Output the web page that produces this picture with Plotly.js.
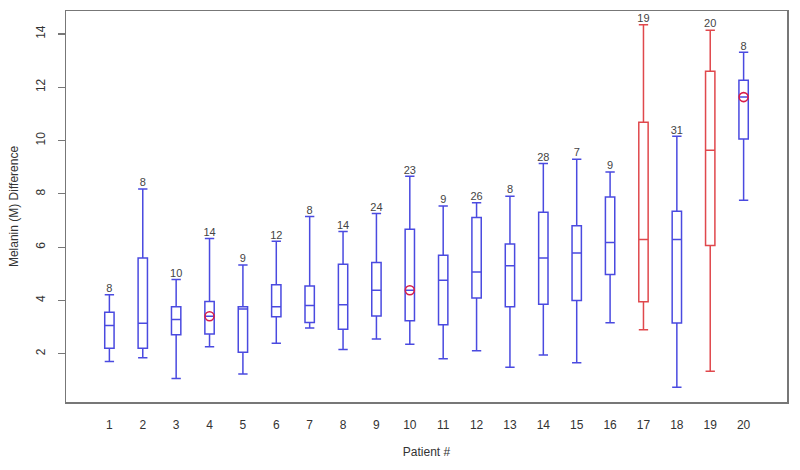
<!DOCTYPE html>
<html>
<head>
<meta charset="utf-8">
<script src="https://cdn.plot.ly/plotly-3.0.1.min.js"></script>
<style>html,body{margin:0;padding:0;background:#fff;}#chart{width:800px;height:470px;}</style>
</head>
<body>
<div id="chart"></div>
<script>
// Patient data
const patients = [1,2,3,4,5,6,7,8,9,10,11,12,13,14,15,16,17,18,19,20];
const lowerWhisker = [1.71,1.85,1.07,2.26,1.24,2.39,2.97,2.16,2.55,2.36,1.81,2.11,1.49,1.95,1.66,3.16,2.90,0.74,1.34,7.76];
const q1Values     = [2.21,2.21,2.71,2.74,2.06,3.39,3.17,2.92,3.42,3.24,3.09,4.09,3.76,3.86,4.00,4.97,3.95,3.15,6.06,10.06];
const medianValues = [3.06,3.14,3.29,3.41,3.68,3.76,3.81,3.84,4.38,4.38,4.76,5.07,5.30,5.59,5.78,6.17,6.29,6.29,9.64,11.63];
const q3Values     = [3.56,5.59,3.76,3.96,3.76,4.59,4.54,5.36,5.42,6.67,5.70,7.11,6.12,7.31,6.80,7.88,10.69,7.35,12.60,12.26];
const upperWhisker = [4.21,8.18,4.79,6.32,5.33,6.22,7.15,6.59,7.26,8.66,7.54,7.67,7.91,9.14,9.30,8.82,14.34,10.16,14.14,13.31];
const countLabels  = [8,8,10,14,9,12,8,14,24,23,9,26,8,28,7,9,19,31,20,8];
const groupColour  = ['b','b','b','b','b','b','b','b','b','b','b','b','b','b','b','b','r','b','r','b'];
// Marked patients (red circles)
const markedPatients = [4,10,20];
const markedValues   = [3.41,4.38,11.63];

const BLUE = '#4a4ae0';
const RED = '#e0484c';

function groupTrace(code, colour) {
  const idx = patients.map((p,i)=>i).filter(i=>groupColour[i]===code);
  return {
    type: 'box',
    x: idx.map(i=>patients[i]),
    lowerfence: idx.map(i=>lowerWhisker[i]),
    q1: idx.map(i=>q1Values[i]),
    median: idx.map(i=>medianValues[i]),
    q3: idx.map(i=>q3Values[i]),
    upperfence: idx.map(i=>upperWhisker[i]),
    width: 0.28,
    whiskerwidth: 1,
    fillcolor: 'rgba(0,0,0,0)',
    line: {color: colour, width: 1.5},
    boxpoints: false,
    hoverinfo: 'skip',
    showlegend: false
  };
}

const traces = [
  groupTrace('b', BLUE),
  groupTrace('r', RED),
  {
    type: 'scatter', mode: 'markers',
    x: markedPatients, y: markedValues,
    marker: {symbol: 'circle-open', size: 9, color: '#d81e4a', line: {width: 1.6, color: '#d81e4a'}},
    showlegend: false, hoverinfo: 'skip'
  },
  {
    type: 'scatter', mode: 'text',
    x: patients, y: upperWhisker,
    text: countLabels.map(String),
    textposition: 'top center',
    textfont: {family: 'Liberation Sans, Arial, sans-serif', size: 11, color: '#444'},
    showlegend: false, hoverinfo: 'skip'
  }
];

const layout = {
  width: 800, height: 470,
  margin: {l: 66, r: 13, t: 11, b: 68},
  paper_bgcolor: '#fff', plot_bgcolor: '#fff',
  font: {family: 'Liberation Sans, Arial, sans-serif', size: 12, color: '#333'},
  xaxis: {
    range: [-0.3, 21.3],
    tickmode: 'array', tickvals: patients, ticktext: patients.map(String),
    ticks: '', showgrid: false, zeroline: false,
    showline: true, mirror: true, linecolor: '#777', linewidth: 1.5,
    ticklabelstandoff: 11,
    tickfont: {size: 12, color: '#333'},
    title: {text: 'Patient #', standoff: 16, font: {size: 12, color: '#333'}}
  },
  yaxis: {
    range: [0.19, 14.86],
    tickvals: [2,4,6,8,10,12,14],
    ticks: 'outside', ticklen: 7, tickcolor: '#777', tickwidth: 1.2,
    tickangle: -90,
    ticklabelstandoff: 8,
    showgrid: false, zeroline: false,
    showline: true, mirror: true, linecolor: '#777', linewidth: 1.5,
    tickfont: {size: 12, color: '#333'},
    title: {text: 'Melanin (M) Difference', standoff: 12, font: {size: 12, color: '#333'}}
  }
};

Plotly.newPlot('chart', traces, layout, {staticPlot: true, displayModeBar: false});
</script>
</body>
</html>
